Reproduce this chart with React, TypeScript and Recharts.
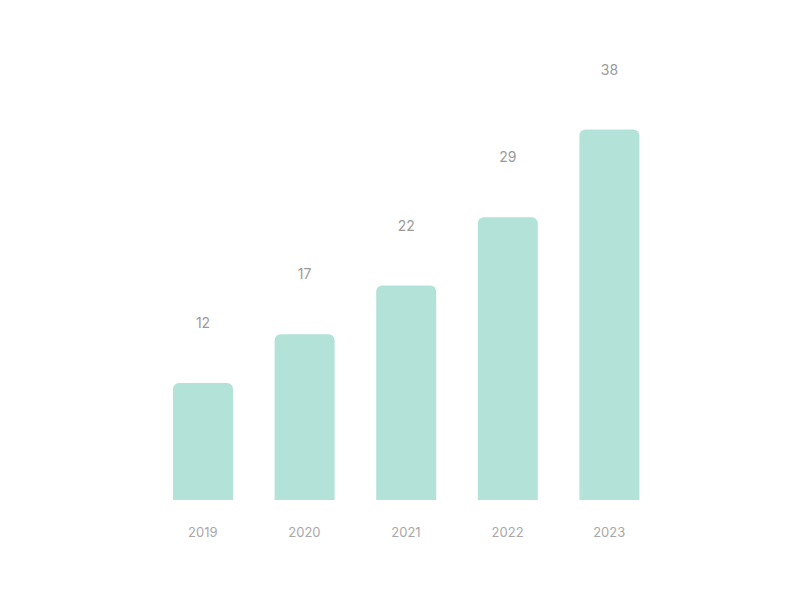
import React from 'react';
import { BarChart, Bar, XAxis, YAxis, LabelList } from 'recharts';

const years = ['2019', '2020', '2021', '2022', '2023'];
const revenue = [12, 17, 22, 29, 38];

const data = years.map((year, i) => ({ year, revenue: revenue[i] }));

export default function App() {
    return (
        <div style={{ position: 'absolute', left: 0, top: 0, width: 800, height: 592, background: '#fff', fontFamily: 'Inter, sans-serif' }}>
            <BarChart
                width={800}
                height={592}
                data={data}
                margin={{ top: 110, right: 140, bottom: 62, left: 152 }}
            >
                <XAxis
                    dataKey="year"
                    axisLine={false}
                    tickLine={false}
                    height={30}
                    tickMargin={22}
                    tick={{ fill: '#a8a8a8', fontSize: 13 }}
                />
                <YAxis hide domain={[0, 40]} />
                <Bar
                    dataKey="revenue"
                    fill="#b3e2d8"
                    barSize={60}
                    radius={[6, 6, 0, 0]}
                    isAnimationActive={false}
                >
                    <LabelList
                        dataKey="revenue"
                        position="top"
                        offset={55}
                        fill="#9a9a9a"
                        fontSize={14}
                    />
                </Bar>
            </BarChart>
        </div>
    );
}
